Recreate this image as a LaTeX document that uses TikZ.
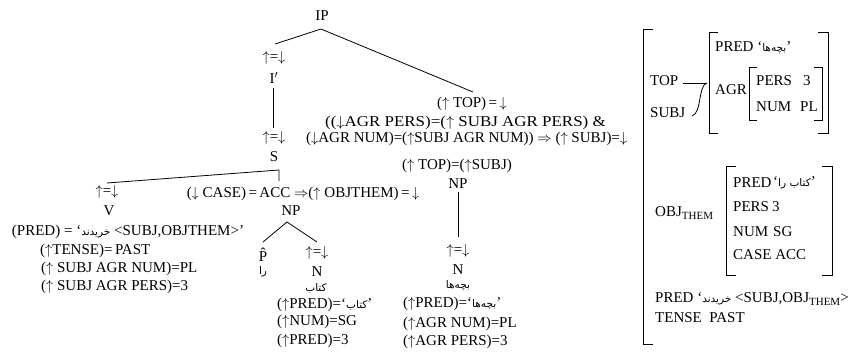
\documentclass[tikz,border=0pt]{standalone}
\usepackage{fontspec}
\setmainfont{Liberation Serif}
\newfontfamily\fa[Script=Arabic]{DejaVu Sans}
\TeXXeTstate=1
\newcommand\per[1]{{\fa\fontsize{10.5}{11}\selectfont\beginR #1\endR}}
\newcommand\up{$\uparrow$}
\newcommand\dn{$\downarrow$}
\newcommand\imp{$\Rightarrow$}
\newcommand\sbt[1]{\raisebox{-0.5ex}{\fontsize{11}{12}\selectfont #1}}
\tikzset{
  t/.style={inner sep=0pt, font=\fontsize{15}{18}\selectfont},
  tl/.style={t, anchor=west},
  ln/.style={line width=0.8pt},
}
\begin{document}
\begin{tikzpicture}[x=1pt,y=-1pt]
\useasboundingbox (0,0) rectangle (860,351);
% ---- c-structure tree
\node[t] (ip) at (322,16) {IP};
\node[t] (eq1) at (274,58) {\up=\dn};
\node[t] (ibar) at (274,78) {I$'$};
\node[t] (eq2) at (274,138) {\up=\dn};
\node[t] (s) at (274,157) {S};
\node[t] (eq3) at (107,192) {\up=\dn};
\node[t] (v) at (109,211) {V};
\node[t] (vpred) at (128,232) {(PRED) = ‘\per{خریدند} <SUBJ,OBJTHEM>’};
\node[tl] (vt) at (40,251) {(\up TENSE)=\,PAST};
\node[tl] (vn) at (41,269) {(\up\ SUBJ AGR NUM)=PL};
\node[tl] (vp) at (41,287) {(\up\ SUBJ AGR PERS)=3};
\node[t] (case) at (303,194) {(\dn\ CASE)\,=\,ACC \imp(\up\ OBJTHEM)\,=\,\dn};
\node[t] (np1) at (291,211) {NP};
\node[t] (phat) at (263,255) {\^{P}};
\node[t] (ra) at (263,272) {\per{را}};
\node[t] (eq4) at (317,253) {\up=\dn};
\node[t] (n1) at (317,272) {N};
\node[t] (ketab) at (316,288) {\per{کتاب}};
\node[tl] (n1a) at (277,305) {(\up PRED)=‘\per{کتاب}’};
\node[tl] (n1b) at (277,322) {(\up NUM)=SG};
\node[tl] (n1c) at (277,341) {(\up PRED)=3};
\node[t] (top1) at (472,104) {(\up\ TOP)\,=\,\dn};
\node[tl] (c1) at (325,123) {\scalebox{1.13}[1]{((\dn AGR PERS)=(\up\ SUBJ AGR PERS) \&}};
\node[tl] (c2) at (306,139) {(\dn AGR NUM)=(\up SUBJ AGR NUM)) \imp\ (\up\ SUBJ)=\dn};
\node[t] (top2) at (457,166) {(\up\ TOP)=(\up SUBJ)};
\node[t] (np2) at (458,184) {NP};
\node[t] (eq5) at (458,251) {\up=\dn};
\node[t] (n2) at (458,270) {N};
\node[t] (bache) at (458,286) {\per{بچه‌ها}};
\node[tl] (n2a) at (403,304) {(\up PRED)=‘\per{بچه‌ها}’};
\node[tl] (n2b) at (403,324) {(\up AGR NUM)=PL};
\node[tl] (n2c) at (403,342) {(\up AGR PERS)=3};
% tree lines
\coordinate (ipA) at (321,29);
\coordinate (ibarT) at (275,44);
\coordinate (topT) at (473,92);
\coordinate (ibarB) at (273,88);
\coordinate (sT) at (273,128);
\coordinate (sA) at (279,170);
\coordinate (vT) at (107,183);
\coordinate (caseT) at (279,181);
\coordinate (np1A) at (287,222);
\coordinate (phatT) at (263,242);
\coordinate (n1T) at (317,242);
\coordinate (np2B) at (458,192);
\coordinate (n2T) at (458,237);
\draw[ln] (ibarT) -- (ipA) -- (topT);
\draw[ln] (ibarB) -- (sT);
\draw[ln] (vT) -- (sA) -- (caseT);
\draw[ln] (phatT) -- (np1A) -- (n1T);
\draw[ln] (np2B) -- (n2T);
% ---- f-structure
\draw[ln] (653,29) -- (643,29) -- (643,344) -- (653,344);
\draw[ln] (718,32) -- (709,32) -- (709,133) -- (718,133);
\draw[ln] (818,32) -- (828,32) -- (828,133) -- (818,133);
\draw[ln] (757,67) -- (749,67) -- (749,120) -- (757,120);
\draw[ln] (814,67) -- (822,67) -- (822,120) -- (814,120);
\draw[ln] (736,166) -- (726,166) -- (726,275) -- (736,275);
\draw[ln] (822,166) -- (832,166) -- (832,275) -- (822,275);
\node[tl] (fpred) at (715,48) {PRED ‘\per{بچه‌ها}’};
\node[tl] (fagr) at (715,90) {AGR};
\node[tl] (fpers) at (756,81) {PERS};
\node[tl] (fpersv) at (803,81) {3};
\node[tl] (fnum) at (756,107) {NUM};
\node[tl] (fnumv) at (800,107) {PL};
\node[tl] (ftop) at (650,81) {TOP};
\node[tl] (fsubj) at (650,113) {SUBJ};
\coordinate (tie) at (707,83);
\coordinate (topE) at (683,83);
\coordinate (subjE) at (692,116);
\draw[ln] (topE) -- (tie);
\draw[ln] (subjE) .. controls (702,113) and (698,85) .. (tie);
\node[tl] (fobj) at (655,213) {OBJ\sbt{THEM}};
\node[tl] (opred) at (733,183) {PRED};
\node[tl] (opredv) at (773,183) {‘\per{کتاب را}’};
\node[tl] (opers) at (733,207) {PERS};
\node[tl] (opersv) at (772,207) {3};
\node[tl] (onum) at (733,232) {NUM};
\node[tl] (onumv) at (773,232) {SG};
\node[tl] (ocase) at (733,255) {CASE ACC};
\node[tl] (mpred) at (655,299) {PRED ‘\per{خریدند} <SUBJ,OBJ\sbt{THEM}>};
\node[tl] (mtense) at (655,318) {TENSE\ \ PAST};
\end{tikzpicture}
\end{document}
